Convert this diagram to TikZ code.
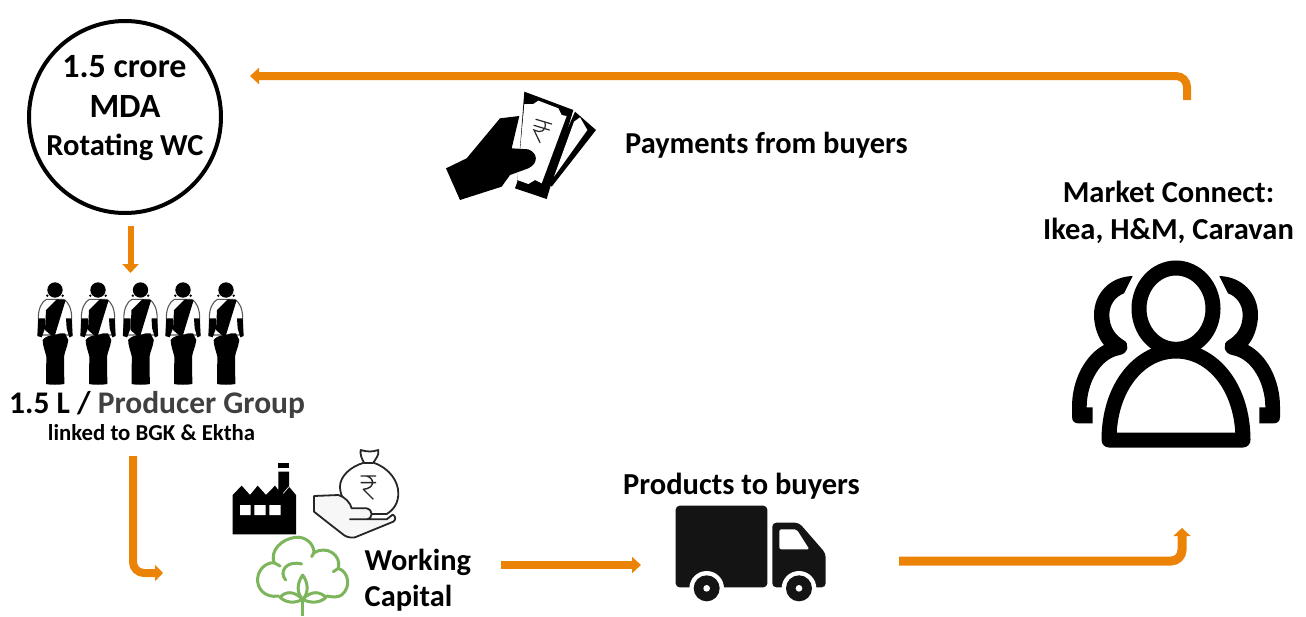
\documentclass[tikz,border=0pt]{standalone}
\usepackage{fontspec}
\setmainfont{Carlito}
\usetikzlibrary{arrows.meta}
\definecolor{flow}{HTML}{EA8306}
\definecolor{leaf}{HTML}{7DB55C}
\definecolor{soft}{HTML}{404040}
\newcommand{\fs}[1]{\fontsize{#1}{#1}\selectfont\bfseries}
\newcommand{\sarifigure}{%
    \fill (0,-282) circle[radius=23];
    \fill (-23,-265) circle[radius=4] (23,-265) circle[radius=4];
    \draw[line width=1.1pt,black!65,fill=white] (-26,-254) -- (26,-254) .. controls (40,-247) and (50,-225) .. (50,-200) -- (50,-147) -- (-50,-147) -- (-50,-200) .. controls (-50,-225) and (-40,-247) .. (-26,-254) -- cycle;
    \fill (-27,-222) -- (5,-254) -- (32,-252) -- (0,-147) -- (-5,-140) -- (-30,-162) -- cycle;
    \fill (-53,-144) -- (-50,-197) -- (-30,-197) -- (-30,-167) -- (-40,-140) -- cycle;
    \fill (53,-144) -- (50,-197) -- (33,-197) -- (35,-167) -- (43,-140) -- cycle;
    \fill (-37,-132) .. controls (-30,-142) and (-15,-147) .. (0,-147) -- (15,-152) -- (30,-152) -- (40,-132) .. controls (37,-110) and (30,-100) .. (27,-82) -- (28,0) .. controls (15,3) and (-15,3) .. (-27,0) -- (-26,-82) .. controls (-30,-100) and (-37,-115) .. (-37,-132) -- cycle;
}
\tikzset{
  x=1pt,y=-1pt,
  label/.style={inner sep=0pt,align=center,text=black,font=\fs{#1}},
  flowline/.style={draw=flow,line width=#1,line cap=butt,rounded corners=11pt},
  tipb/.style={-{Triangle[length=9pt,width=16pt]}},
  zoomed/.style={xscale=1/3,yscale=1/3},
  bagline/.style={draw=black!85,line width=1.8pt,line join=round,fill=#1},
  tree/.style={draw=leaf,line width=3pt,line cap=round,line join=round},
}
\begin{document}
\begin{tikzpicture}
\useasboundingbox (0,0) rectangle (1306,616);
% anchors of the connectors
\coordinate (payS) at (1187,100);
\coordinate (payC) at (1187,76);
\coordinate (payE) at (250,76);
\coordinate (mdaS) at (130.5,226);
\coordinate (mdaE) at (130.5,273);
\coordinate (pgS) at (133,456);
\coordinate (pgC) at (133,573);
\coordinate (pgE) at (163,573);
\coordinate (wcS) at (501,565);
\coordinate (wcE) at (641,565);
\coordinate (trS) at (899,561);
\coordinate (trC) at (1182,561);
\coordinate (trE) at (1182,528);

% MDA circle
\node[circle,draw=black,line width=4pt,minimum size=192pt,inner sep=0pt] (mda) at (125,117) {};
\node[label=34] (mda1) at (124.5,67) {1.5 crore};
\node[label=34] (mda2) at (125,106.5) {MDA};
\node[label=30.5] (mda3) at (125,147) {Rotating WC};

% connectors
\draw[flowline=8pt,tipb] (payS) -- (payC) -- (payE);
\draw[flowline=6pt,tipb] (mdaS) -- (mdaE);
\draw[flowline=8pt,-{Triangle[length=8pt,width=16pt]}] (pgS) -- (pgC) -- (pgE);
\draw[flowline=8pt,tipb] (wcS) -- (wcE);
\draw[flowline=9pt,-{Triangle[length=8pt,width=17pt]}] (trS) -- (trC) -- (trE);

% women
\foreach \xx in {55,98,140.5,183,226}{
  \begin{scope}[shift={(\xx,384)},zoomed]
    \sarifigure
  \end{scope}
}
\node[label=31.5,anchor=west] (pg) at (9,405) {1.5 L / \textcolor{soft}{Producer Group}};
\node[label=22.8] (pgl) at (151.5,433) {linked to BGK \& Ektha};

% cash in hand
\begin{scope}[shift={(430,80)},zoomed]
  \fill (435,95) -- (498,150) -- (365,320) -- (345,300) -- cycle;
  \fill[white] (432,125) -- (450,112) -- (472,150) -- (372,290) -- cycle;
  \fill (283,35) -- (430,90) -- (350,357) -- (255,325) -- (262,305) -- cycle;
  \fill[white] (283,72) -- (310,72) -- (325,62) -- (385,85) -- (395,105) -- (410,108) -- (335,310) -- (315,300) -- (295,312) -- (262,300) -- cycle;
  \draw[line width=1.2pt,black!85,line cap=round] (318,118) -- (365,132) (312,136) -- (358,150) (345,128) .. controls (350,155) and (330,160) .. (312,150) -- (330,188);
  \fill (48,265) -- (110,235) -- (210,115) -- (268,108) -- (245,205) -- (295,208) .. controls (325,220) and (325,250) .. (295,265) -- (240,285) -- (215,320) -- (90,360) -- cycle;
\end{scope}
\node[label=30.4,anchor=west] (pay) at (625,145) {Payments from buyers};

% market
\node[label=30.5] (mk) at (1168.5,212.5) {Market Connect:\\[6pt]Ikea, H\&M, Caravan};
\begin{scope}[shift={(1050,240)},zoomed]
  \draw[line width=15pt,black] (378,206) ellipse[x radius=111,y radius=122];
  \draw[line width=15pt,black,line join=round] (177,600) .. controls (177,440) and (270,333) .. (378,333) .. controls (486,333) and (579,440) .. (579,600) -- cycle;
  \foreach \sx/\px in {1/0,-1/756}{
  \begin{scope}[shift={(\px,0)},xscale=\sx]
    \fill (248,108) .. controls (180,110) and (132,160) .. (132,225) .. controls (132,260) and (145,295) .. (162,315) .. controls (105,345) and (66,420) .. (66,500) -- (66,530) .. controls (66,545) and (75,550) .. (85,550) -- (128,550) -- (128,502) -- (110,502) .. controls (110,430) and (150,355) .. (210,345) .. controls (235,340) and (240,310) .. (220,300) .. controls (195,285) and (178,260) .. (178,225) .. controls (178,195) and (195,170) .. (222,160) -- cycle;
  \end{scope}}
\end{scope}

% factory
\begin{scope}[shift={(110,440)},zoomed]
  \fill (368,283) -- (368,165) -- (395,137) -- (420,165) -- (443,137) -- (468,165) -- (495,137) -- (505,150) -- (505,95) -- (537,95) -- (537,140) -- (558,165) -- (558,283) -- cycle;
  \fill (505,70) rectangle (537,83);
  \fill[white] (390,195) rectangle (422,225) (433,195) rectangle (467,225) (478,195) rectangle (512,225);
  \draw[white,line width=.6pt] (520,160) -- (537,140);
  % money bag
  \draw[bagline=white] (752,30) .. controls (775,36) and (785,36) .. (805,30) .. controls (808,45) and (798,55) .. (790,68) .. controls (840,85) and (865,125) .. (865,160) .. controls (865,190) and (850,210) .. (830,222) -- (750,222) .. controls (710,205) and (690,170) .. (690,140) .. controls (690,110) and (720,80) .. (762,68) .. controls (755,55) and (750,45) .. (752,30) -- cycle;
  \draw[bagline=none] (762,68) -- (790,68);
  \draw[bagline=black!3] (612,168) -- (685,165) .. controls (705,170) and (722,190) .. (725,205) -- (770,205) .. controls (790,210) and (790,235) .. (770,238) -- (720,238) -- (830,238) -- (848,224) .. controls (858,228) and (858,240) .. (850,245) -- (735,292) .. controls (720,295) and (705,290) .. (695,280) -- (650,245) -- (612,215) -- cycle;
  \draw[bagline=none,line width=1.4pt] (752,108) -- (798,108) (752,128) -- (798,128) (770,108) .. controls (795,115) and (795,145) .. (760,148) -- (790,178);
  % cotton tree
  \draw[tree] (505,468) .. controls (465,475) and (440,445) .. (443,415) .. controls (445,390) and (465,368) .. (492,368) .. controls (480,330) and (515,298) .. (555,292) .. controls (585,288) and (612,310) .. (612,338) .. controls (650,315) and (695,345) .. (685,385) .. controls (715,395) and (725,440) .. (695,465) .. controls (685,472) and (670,472) .. (650,468);
  \draw[tree] (492,368) -- (510,378) (612,338) -- (605,350) (685,385) -- (670,395);
  \draw[tree] (527,420) .. controls (505,395) and (530,360) .. (575,372);
  \draw[tree] (578,405) .. controls (560,430) and (560,460) .. (578,478) .. controls (596,460) and (596,430) .. (578,405);
  \draw[tree] (578,478) .. controls (550,450) and (525,455) .. (510,472) .. controls (530,490) and (555,490) .. (578,478) .. controls (600,490) and (630,490) .. (648,472) .. controls (630,455) and (605,450) .. (578,478);
  \draw[tree,line cap=butt] (578,478) -- (578,528);
\end{scope}
\node[label=30.4,anchor=west,align=left] (wc) at (364.5,580) {Working\\[6pt]Capital};

% truck
\node[label=30.5] (pr) at (741.5,486) {Products to buyers};
\begin{scope}[shift={(650,490)},zoomed]
  \fill[black!92,rounded corners=4pt] (77,47) rectangle (352,292);
  \fill[black!92,rounded corners=4pt] (367,292) -- (367,98) -- (447,98) -- (527,190) -- (527,292) -- cycle;
  \fill[white,rounded corners=2pt] (388,118) -- (440,118) -- (478,178) -- (388,178) -- cycle;
  \foreach \wx in {170,447}{
    \fill[white] (\wx,295) circle[radius=52];
    \fill[black!92] (\wx,295) circle[radius=39];
    \fill[white] (\wx,295) circle[radius=10];
  }
\end{scope}
\end{tikzpicture}
\end{document}
